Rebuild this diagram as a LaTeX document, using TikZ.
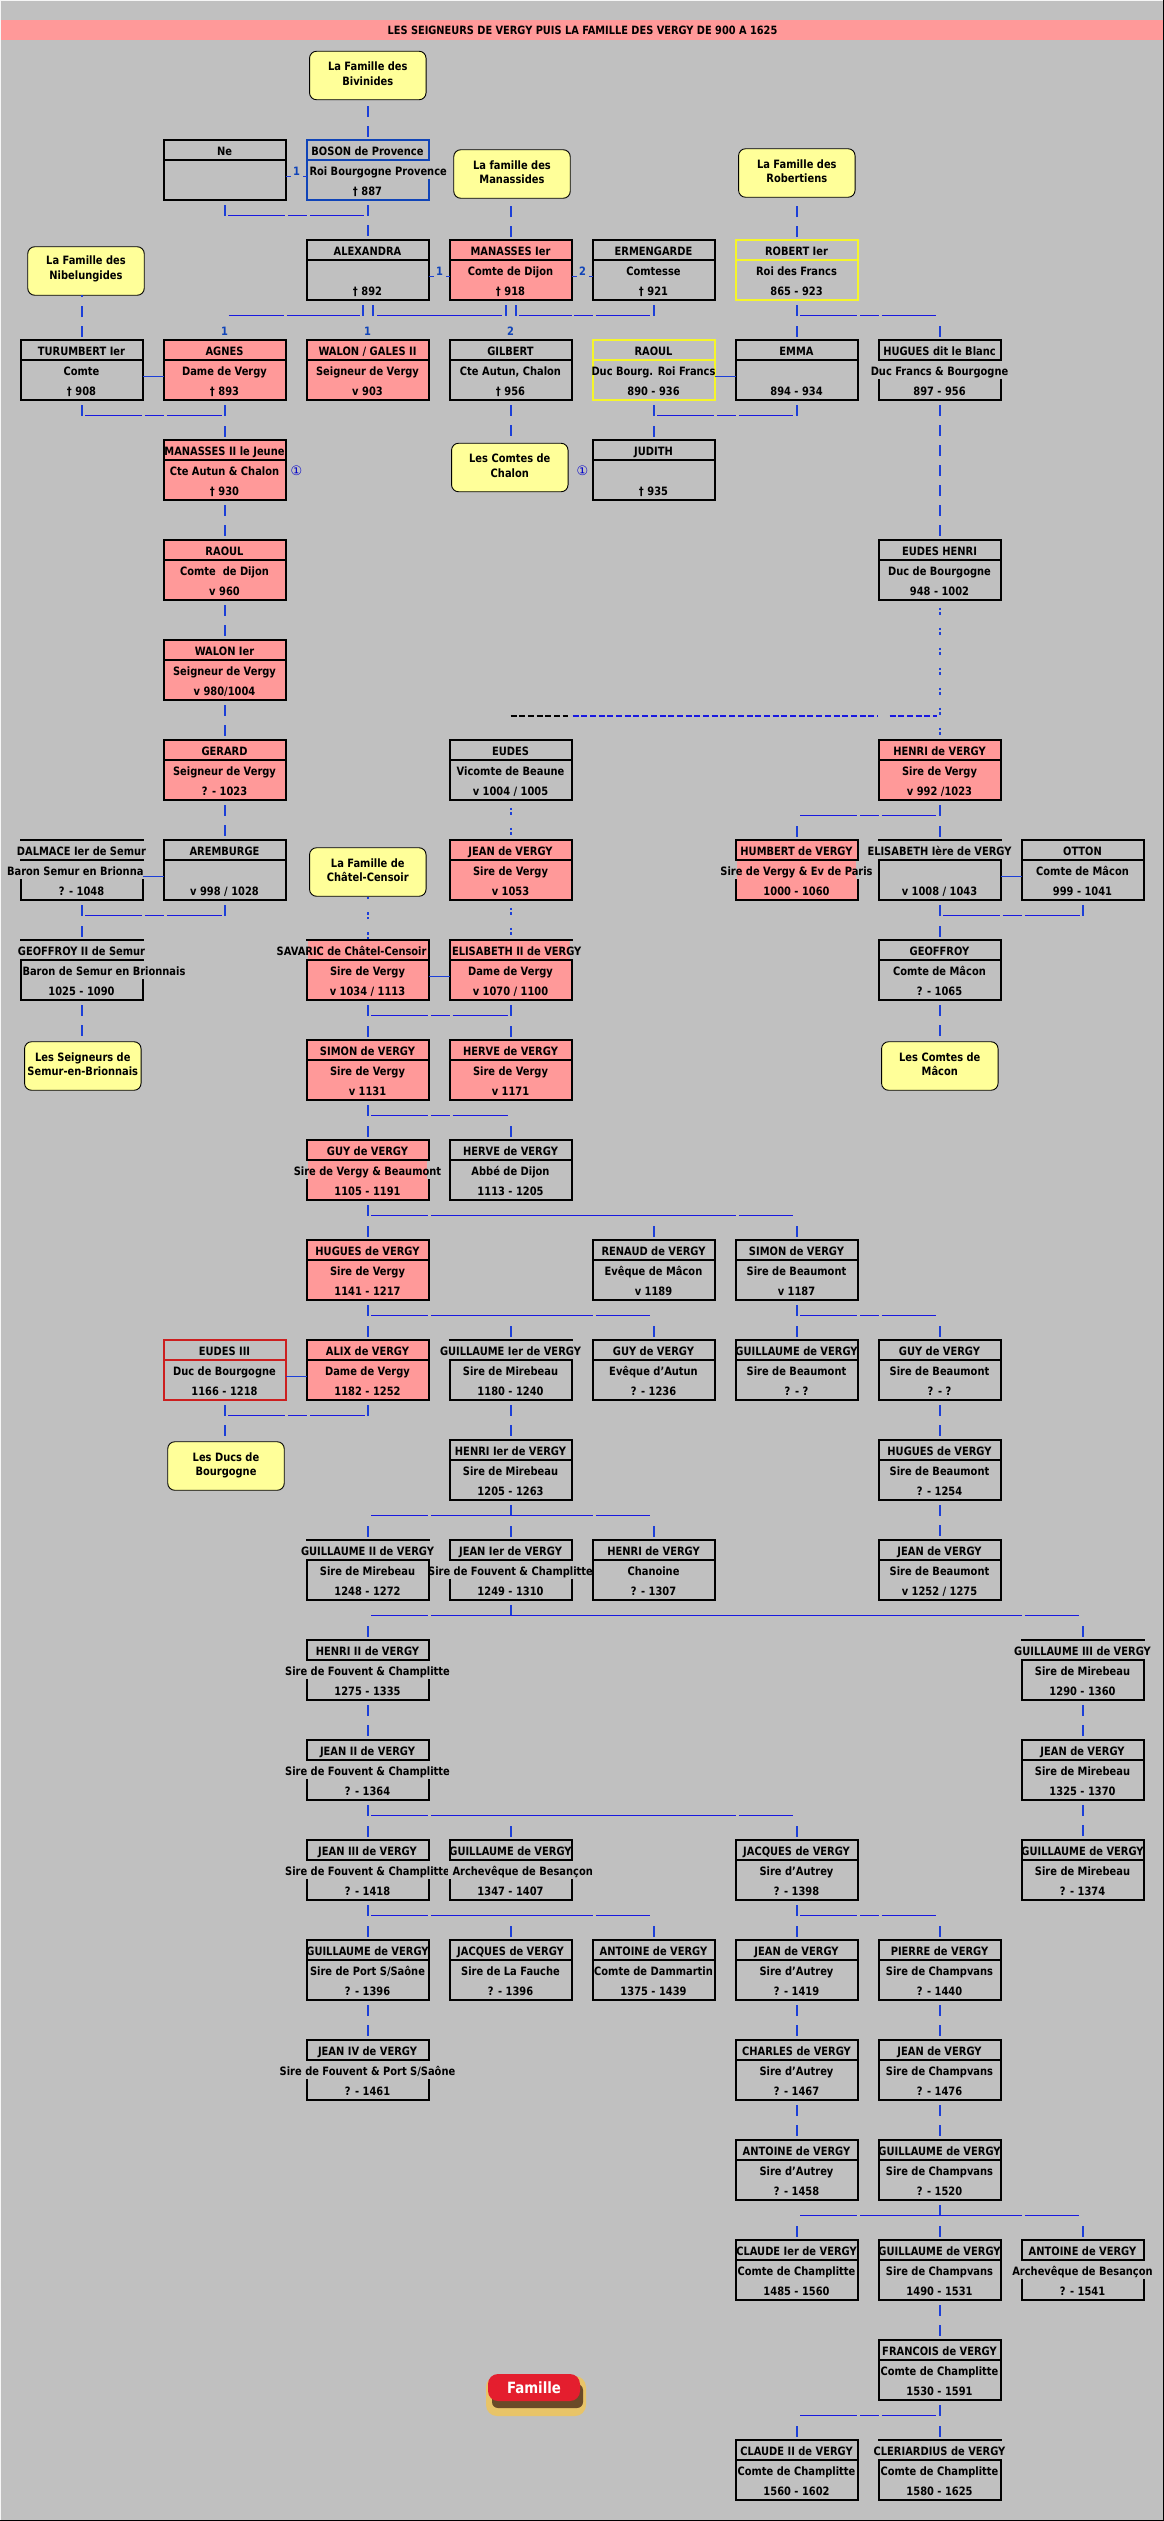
\documentclass[tikz,border=0pt]{standalone}
\usepackage{fontspec}
\setmainfont{DejaVu Sans}[FakeStretch=0.86]
\newfontfamily\circfont{DejaVu Sans}
\usetikzlibrary{calc}
\definecolor{bgc}{HTML}{C0C0C0}
\definecolor{pinkc}{HTML}{FF9999}
\definecolor{yelc}{HTML}{FFFF99}
\definecolor{linkc}{HTML}{1C3FD8}
\definecolor{hlinkc}{HTML}{1818E0}
\definecolor{boscol}{HTML}{1044B8}
\definecolor{redc}{HTML}{CC1F1F}
\definecolor{ybord}{HTML}{F5F52A}
\definecolor{halo}{HTML}{E8C468}
\definecolor{shad}{HTML}{6A4A28}
\definecolor{btn}{HTML}{E41E2E}
\tikzset{
  x=1pt,y=-1pt,
  boxbase/.style={draw=black,line width=2pt,fill=bgc,minimum width=122pt,minimum height=59.5pt,inner sep=0pt,outer sep=0pt},
  pink/.style={fill=pinkc},
  bluebord/.style={draw=boscol},
  yelbord/.style={draw=ybord},
  redbord/.style={draw=redc},
  txt/.style={font=\fontsize{11.5}{13}\selectfont\bfseries,text=black,text height=11pt,text depth=2pt,inner sep=0pt,outer sep=0pt,anchor=center},
  yel/.style={draw=black,line width=0.9pt,fill=yelc,rounded corners=7pt,minimum width=116.5pt,minimum height=48.5pt,inner sep=0pt,outer sep=0pt},
  vt/.style={draw=linkc,line width=2pt,dash pattern=on 11pt off 9pt,dash phase=14.5pt},
  vtb/.style={draw=linkc,line width=2pt,dash pattern=on 11pt off 9pt,dash phase=17pt},
  dots/.style={draw=linkc,line width=2pt,dash pattern=on 2.5pt off 2pt on 2.5pt off 13pt,dash phase=12pt},
  hb/.style={draw=hlinkc,line width=1.3pt},
  mar/.style={draw=linkc,line width=1pt},
  num/.style={font=\fontsize{11.5}{13}\selectfont\bfseries,text=boscol,inner sep=0pt,outer sep=0pt},
  circ/.style={font=\fontsize{13}{13}\selectfont\circfont,text=blue!80!black,inner sep=0pt,outer sep=0pt},
}
% \person{id}{col}{row}{style}{name}{line 2}{line 3}
\newcommand{\person}[7]{%
  \node[boxbase,#4] (#1) at ({81.5+143*#2},{169.75+100*#3}) {};
  \draw[line width=2pt,draw=black,#4] (#1.north west) ++(0,20) -- ($(#1.north east)+(0,20)$);
  \node[txt] (#1-a) at ($(#1.north)+(0,11)$) {#5};
  \node[txt] (#1-b) at ($(#1.north)+(0,31)$) {#6};
  \node[txt] (#1-c) at ($(#1.north)+(0,51)$) {#7};
}
\newcommand{\yelbox}[6]{%
  \node[yel] (#1) at (#2,#3) {};
  \node[txt] (#1-a) at ($(#1.north)+(0,#6)$) {#4};
  \node[txt] (#1-b) at ($(#1.north)+(0,#6+14.5)$) {#5};
}
\newcommand{\tkvl}[2]{\draw[vt] (#1.south) -- (#1.south |- #2.north);}
\newcommand{\tkvb}[2]{\draw[vtb] (#2.north) -- (#2.north |- #1.south);}
\newcommand{\tkvd}[2]{\draw[dots] (#1.south) -- (#1.south |- #2.north);}
\newcommand{\tkup}[1]{\draw[vt] (#1.south) -- ++(0,18);}
\newcommand{\tkdn}[1]{\draw[draw=linkc,line width=2pt] ($(#1.north)+(0,-14)$) -- ($(#1.north)+(0,-3)$);}
% bar under node #1 from centre of #2 (+#3) to centre of #4 (+#5), with the cell gaps
\newcommand{\sibx}[5]{%
  \draw[hb] ($(#1.south -| #2.south)+(#3,16)$) -- ($(#1.south -| #2.east)+(-1,16)$);
  \draw[hb] ($(#1.south -| #2.east)+(2,16)$) -- ($(#1.south -| #4.west)+(0,16)$);
  \draw[hb] ($(#1.south -| #4.west)+(3,16)$) -- ($(#1.south -| #4.south)+(#5,16)$);
}
\newcommand{\mlink}[2]{\draw[mar] ($(#1.north east)+(0,36)$) -- ($(#2.north west)+(0,36)$);}
\newcommand{\ovf}[4]{% id, sides, row, text
  \foreach \s in {#2}{\draw[line width=3.4pt,bgc] ($(#1.north \s)+(0,{#3*20-19})$) -- +(0,18);}
  \node[txt] (#1-o#3) at ($(#1.north)+(0,{#3*20-9})$) {#4};
}
\begin{document}
\begin{tikzpicture}
\useasboundingbox (0,0) rectangle (1164,2521);
\fill[bgc] (0,0) rectangle (1164,2521);
\draw[black,line width=1pt] (1163.5,0) -- (1163.5,2520.5) -- (0,2520.5);
\draw[white!85!bgc,line width=1pt] (0.5,2520) -- (0.5,0.5) -- (1163,0.5);
\fill[pinkc] (1,20) rectangle (1163,40);
\node[inner sep=0pt,font=\fontsize{11.4}{13}\selectfont\bfseries,text=black] (titre) at (582.5,30) {LES SEIGNEURS DE VERGY PUIS LA FAMILLE DES VERGY DE 900 A 1625};

% families
\yelbox{bivinides}{367.8}{75.5}{La Famille des}{Bivinides}{15}
\yelbox{manassides}{512}{174}{La famille des}{Manassides}{15}
\yelbox{robertiens}{796.8}{173}{La Famille des}{Robertiens}{15}
\yelbox{nibelung}{86}{271}{La Famille des}{Nibelungides}{13.5}
\yelbox{chalon}{509.8}{467.5}{Les Comtes de}{Chalon}{15}
\yelbox{chatel}{367.8}{872}{La Famille de}{Châtel-Censoir}{15}
\yelbox{semurf}{82.8}{1066}{Les Seigneurs de}{Semur-en-Brionnais}{15}
\yelbox{macon}{939.8}{1066}{Les Comtes de}{Mâcon}{15}
\yelbox{ducs}{226}{1466}{Les Ducs de}{Bourgogne}{15}

% people
\person{ne}{1}{0}{}{Ne}{}{}
\person{boson}{2}{0}{bluebord}{BOSON de Provence}{}{† 887}
\person{alexandra}{2}{1}{}{ALEXANDRA}{}{† 892}
\person{manasses}{3}{1}{pink}{MANASSES Ier}{Comte de Dijon}{† 918}
\person{ermengarde}{4}{1}{}{ERMENGARDE}{Comtesse}{† 921}
\person{robert}{5}{1}{yelbord}{ROBERT Ier}{Roi des Francs}{865 - 923}
\person{turumbert}{0}{2}{}{TURUMBERT Ier}{Comte}{† 908}
\person{agnes}{1}{2}{pink}{AGNES}{Dame de Vergy}{† 893}
\person{walon}{2}{2}{pink}{WALON / GALES II}{Seigneur de Vergy}{v 903}
\person{gilbert}{3}{2}{}{GILBERT}{Cte Autun, Chalon}{† 956}
\person{raoulb}{4}{2}{yelbord}{RAOUL}{Duc Bourg. Roi Francs}{890 - 936}
\person{emma}{5}{2}{}{EMMA}{}{894 - 934}
\person{hugues}{6}{2}{}{HUGUES dit le Blanc}{}{897 - 956}
\person{manassesb}{1}{3}{pink}{MANASSES II le Jeune}{Cte Autun \& Chalon}{† 930}
\person{judith}{4}{3}{}{JUDITH}{}{† 935}
\person{raoul}{1}{4}{pink}{RAOUL}{Comte\ \ de Dijon}{v 960}
\person{eudesh}{6}{4}{}{EUDES HENRI}{Duc de Bourgogne}{948 - 1002}
\person{walonb}{1}{5}{pink}{WALON Ier}{Seigneur de Vergy}{v 980/1004}
\person{gerard}{1}{6}{pink}{GERARD}{Seigneur de Vergy}{? - 1023}
\person{eudes}{3}{6}{}{EUDES}{Vicomte de Beaune}{v 1004 / 1005}
\person{henri}{6}{6}{pink}{HENRI de VERGY}{Sire de Vergy}{v 992 /1023}
\person{dalmace}{0}{7}{}{}{}{? - 1048}
\person{aremburge}{1}{7}{}{AREMBURGE}{}{v 998 / 1028}
\person{jean}{3}{7}{pink}{JEAN de VERGY}{Sire de Vergy}{v 1053}
\person{humbert}{5}{7}{pink}{HUMBERT de VERGY}{}{1000 - 1060}
\person{elisa}{6}{7}{}{}{}{v 1008 / 1043}
\person{otton}{7}{7}{}{OTTON}{Comte de Mâcon}{999 - 1041}
\person{geoffb}{0}{8}{}{}{}{1025 - 1090}
\person{savaric}{2}{8}{pink}{}{Sire de Vergy}{v 1034 / 1113}
\person{elisb}{3}{8}{pink}{}{Dame de Vergy}{v 1070 / 1100}
\person{geoffroy}{6}{8}{}{GEOFFROY}{Comte de Mâcon}{? - 1065}
\person{simon}{2}{9}{pink}{SIMON de VERGY}{Sire de Vergy}{v 1131}
\person{herve}{3}{9}{pink}{HERVE de VERGY}{Sire de Vergy}{v 1171}
\person{guy}{2}{10}{pink}{GUY de VERGY}{}{1105 - 1191}
\person{herveb}{3}{10}{}{HERVE de VERGY}{Abbé de Dijon}{1113 - 1205}
\person{huguesv}{2}{11}{pink}{HUGUES de VERGY}{Sire de Vergy}{1141 - 1217}
\person{renaud}{4}{11}{}{RENAUD de VERGY}{Evêque de Mâcon}{v 1189}
\person{simonb}{5}{11}{}{SIMON de VERGY}{Sire de Beaumont}{v 1187}
\person{eudesc}{1}{12}{redbord}{EUDES III}{Duc de Bourgogne}{1166 - 1218}
\person{alix}{2}{12}{pink}{ALIX de VERGY}{Dame de Vergy}{1182 - 1252}
\person{guila}{3}{12}{}{}{Sire de Mirebeau}{1180 - 1240}
\person{guyb}{4}{12}{}{GUY de VERGY}{Evêque d'Autun}{? - 1236}
\person{guilb}{5}{12}{}{GUILLAUME de VERGY}{Sire de Beaumont}{? - ?}
\person{guyc}{6}{12}{}{GUY de VERGY}{Sire de Beaumont}{? - ?}
\person{henria}{3}{13}{}{HENRI Ier de VERGY}{Sire de Mirebeau}{1205 - 1263}
\person{huguesb}{6}{13}{}{HUGUES de VERGY}{Sire de Beaumont}{? - 1254}
\person{guilc}{2}{14}{}{}{Sire de Mirebeau}{1248 - 1272}
\person{jeana}{3}{14}{}{JEAN Ier de VERGY}{}{1249 - 1310}
\person{henrib}{4}{14}{}{HENRI de VERGY}{Chanoine}{? - 1307}
\person{jeanb}{6}{14}{}{JEAN de VERGY}{Sire de Beaumont}{v 1252 / 1275}
\person{henric}{2}{15}{}{HENRI II de VERGY}{}{1275 - 1335}
\person{guild}{7}{15}{}{}{Sire de Mirebeau}{1290 - 1360}
\person{jeanc}{2}{16}{}{JEAN II de VERGY}{}{? - 1364}
\person{jeand}{7}{16}{}{JEAN de VERGY}{Sire de Mirebeau}{1325 - 1370}
\person{jeane}{2}{17}{}{JEAN III de VERGY}{}{? - 1418}
\person{guile}{3}{17}{}{GUILLAUME de VERGY}{}{1347 - 1407}
\person{jacques}{5}{17}{}{JACQUES de VERGY}{Sire d'Autrey}{? - 1398}
\person{guilf}{7}{17}{}{GUILLAUME de VERGY}{Sire de Mirebeau}{? - 1374}
\person{guilg}{2}{18}{}{GUILLAUME de VERGY}{Sire de Port S/Saône}{? - 1396}
\person{jacquesb}{3}{18}{}{JACQUES de VERGY}{Sire de La Fauche}{? - 1396}
\person{antoine}{4}{18}{}{ANTOINE de VERGY}{Comte de Dammartin}{1375 - 1439}
\person{jeanf}{5}{18}{}{JEAN de VERGY}{Sire d'Autrey}{? - 1419}
\person{pierre}{6}{18}{}{PIERRE de VERGY}{Sire de Champvans}{? - 1440}
\person{jeang}{2}{19}{}{JEAN IV de VERGY}{}{? - 1461}
\person{charles}{5}{19}{}{CHARLES de VERGY}{Sire d'Autrey}{? - 1467}
\person{jeanh}{6}{19}{}{JEAN de VERGY}{Sire de Champvans}{? - 1476}
\person{antoineb}{5}{20}{}{ANTOINE de VERGY}{Sire d'Autrey}{? - 1458}
\person{guilh}{6}{20}{}{GUILLAUME de VERGY}{Sire de Champvans}{? - 1520}
\person{claude}{5}{21}{}{CLAUDE Ier de VERGY}{Comte de Champlitte}{1485 - 1560}
\person{guili}{6}{21}{}{GUILLAUME de VERGY}{Sire de Champvans}{1490 - 1531}
\person{antoinec}{7}{21}{}{ANTOINE de VERGY}{}{? - 1541}
\person{francois}{6}{22}{}{FRANCOIS de VERGY}{Comte de Champlitte}{1530 - 1591}
\person{claudeb}{5}{23}{}{CLAUDE II de VERGY}{Comte de Champlitte}{1560 - 1602}
\person{cleri}{6}{23}{}{}{Comte de Champlitte}{1580 - 1625}

% border breaks and overflowing text
\ovf{boson}{east}{2}{}
\node[txt,anchor=west] (boson-ov) at ($(boson.north west)+(3,31)$) {Roi Bourgogne Provence};
\ovf{hugues}{west,east}{2}{Duc Francs \& Bourgogne}
\ovf{dalmace}{west,east}{1}{DALMACE Ier de Semur}
\ovf{dalmace}{west,east}{2}{}
\node[txt,anchor=east] (dalmace-ov) at ($(dalmace.north east)+(1,31)$) {Baron Semur en Brionna};
\ovf{humbert}{west,east}{2}{Sire de Vergy \& Ev de Paris}
\ovf{elisa}{west,east}{1}{ELISABETH Ière de VERGY}
\ovf{geoffb}{west,east}{1}{GEOFFROY II de Semur}
\ovf{geoffb}{east}{2}{}
\node[txt,anchor=west] (geoffb-ov) at ($(geoffb.north west)+(2,31)$) {Baron de Semur en Brionnais};
\ovf{savaric}{west}{1}{}
\node[txt,anchor=east] (savaric-ov) at ($(savaric.north east)+(-2,11)$) {SAVARIC de Châtel-Censoir};
\ovf{elisb}{east}{1}{}
\node[txt,anchor=west] (elisb-ov) at ($(elisb.north west)+(2.5,11)$) {ELISABETH II de VERGY};
\ovf{guy}{west,east}{2}{Sire de Vergy \& Beaumont}
\ovf{guila}{west,east}{1}{GUILLAUME Ier de VERGY}
\ovf{guilc}{west,east}{1}{GUILLAUME II de VERGY}
\ovf{jeana}{west,east}{2}{Sire de Fouvent \& Champlitte}
\ovf{henric}{west,east}{2}{Sire de Fouvent \& Champlitte}
\ovf{guild}{west,east}{1}{GUILLAUME III de VERGY}
\ovf{jeanc}{west,east}{2}{Sire de Fouvent \& Champlitte}
\ovf{jeane}{west,east}{2}{Sire de Fouvent \& Champlitte}
\ovf{guile}{west,east}{2}{}
\node[txt,anchor=west] (guile-ov) at ($(guile.north west)+(3,31)$) {Archevêque de Besançon};
\ovf{jeang}{west,east}{2}{Sire de Fouvent \& Port S/Saône}
\ovf{antoinec}{west,east}{2}{Archevêque de Besançon}
\ovf{cleri}{west,east}{1}{CLERIARDIUS de VERGY}

% marriages
\draw[mar] ($(ne.north east)+(0,36)$) -- +(5,0);
\draw[mar] ($(boson.north west)+(0,36)$) -- +(-3.5,0);
\node[num] (n1) at (296.5,171) {1};
\draw[mar] ($(alexandra.north east)+(0,36)$) -- +(5,0);
\draw[mar] ($(manasses.north west)+(0,36)$) -- +(-3.5,0);
\node[num] (n2) at (439.5,271) {1};
\draw[mar] ($(manasses.north east)+(0,36)$) -- +(5,0);
\draw[mar] ($(ermengarde.north west)+(0,36)$) -- +(-3.5,0);
\node[num] (n3) at (582.5,271) {2};
\mlink{turumbert}{agnes}
\mlink{raoulb}{emma}
\mlink{dalmace}{aremburge}
\mlink{savaric}{elisb}
\mlink{elisa}{otton}
\mlink{eudesc}{alix}

% children numbers and renvois
\node[num] (n4) at (224.5,331) {1};
\node[num] (n5) at (367.5,331) {1};
\node[num] (n6) at (510.5,331) {2};
\node[circ] (c1) at (296.5,471) {①};
\node[circ] (c2) at (582.5,471) {①};

% descents from the family boxes
\tkvb{bivinides}{boson}
\tkvb{manassides}{manasses}
\tkvb{robertiens}{robert}
\tkvb{nibelung}{turumbert}

% straight descents
\tkvl{boson}{alexandra}
\tkvl{gilbert}{chalon}
\tkvl{hugues}{eudesh}
\tkvl{manassesb}{raoul}
\tkvl{raoul}{walonb}
\tkvl{walonb}{gerard}
\tkvl{gerard}{aremburge}
\tkvl{geoffb}{semurf}
\tkvl{geoffroy}{macon}
\tkvl{guila}{henria}
\tkvl{guyc}{huguesb}
\tkvl{huguesb}{jeanb}
\tkvl{henric}{jeanc}
\tkvl{guild}{jeand}
\tkvl{jeand}{guilf}
\tkvl{guilg}{jeang}
\tkvl{jeanf}{charles}
\tkvl{pierre}{jeanh}
\tkvl{jeanh}{guilh}
\tkvl{charles}{antoineb}
\tkvl{guili}{francois}
\tkvl{eudesc}{ducs}

% dotted descents
\tkvd{eudesh}{henri}
\tkvd{eudes}{jean}
\tkvd{jean}{elisb}
\draw[dots,dash phase=19pt] (savaric.north) -- (savaric.north |- chatel.south);

\draw[draw=black,line width=1.2pt,dash pattern=on 6pt off 2.7pt] ($(eudes.north)+(0,-24)$) -- +(57,0);
\draw[draw=hlinkc,line width=1.2pt,dash pattern=on 6pt off 2.7pt] ($(eudes.north)+(62,-24)$) -- ($(henri.north)+(-62,-24)$);
\draw[draw=hlinkc,line width=1.2pt,dash pattern=on 6pt off 2.7pt] ($(henri.north)+(-50,-24)$) -- ($(henri.north)+(-3,-24)$);

% couples and sibling bars
\tkup{ne}\sibx{boson}{ne}{3.5}{boson}{-3.5}
\draw[vt] ($(alexandra.south)+(-5,0)$) -- +(0,18);
\draw[vt] ($(alexandra.south)+(5,0)$) -- +(0,18);
\draw[vt] ($(manasses.south)+(-5,0)$) -- +(0,18);
\draw[vt] ($(manasses.south)+(5,0)$) -- +(0,18);
\tkup{ermengarde}
\draw[hb] ($(alexandra.south)+(-139,16)$) -- ($(alexandra.south)+(-83.5,16)$);
\draw[hb] ($(alexandra.south)+(-81,16)$) -- ($(alexandra.south)+(-7.5,16)$);
\draw[hb] ($(alexandra.south)+(9.5,16)$) -- ($(manasses.south)+(-8.5,16)$);
\draw[hb] ($(manasses.south)+(8.5,16)$) -- ($(manasses.east |- manasses.south)+(0,16)$);
\draw[hb] ($(manasses.east |- manasses.south)+(2,16)$) -- ($(ermengarde.south west)+(0,16)$);
\draw[hb] ($(ermengarde.south west)+(3,16)$) -- ($(ermengarde.south)+(-3.5,16)$);
\tkup{robert}\sibx{robert}{robert}{3.5}{hugues}{-3.5}\tkdn{emma}\tkdn{hugues}
\tkup{turumbert}\tkup{agnes}\sibx{agnes}{turumbert}{3.5}{agnes}{-3}\tkdn{manassesb}
\tkup{raoulb}\tkup{emma}\sibx{emma}{raoulb}{3.5}{emma}{-3.5}\tkdn{judith}
\tkup{henri}\sibx{henri}{humbert}{3.5}{henri}{-3.5}\tkdn{humbert}\tkdn{elisa}
\tkup{dalmace}\tkup{aremburge}\sibx{dalmace}{dalmace}{3.5}{aremburge}{-3}\tkdn{geoffb}
\tkup{elisa}\tkup{otton}\sibx{elisa}{elisa}{3.5}{otton}{-3}\tkdn{geoffroy}
\tkup{savaric}\tkup{elisb}\sibx{savaric}{savaric}{3.5}{elisb}{-3}\tkdn{simon}\tkdn{herve}
\tkup{simon}\sibx{simon}{simon}{3.5}{herve}{-3}\tkdn{guy}\tkdn{herveb}
\tkup{guy}\sibx{guy}{guy}{3.5}{simonb}{-3.5}\tkdn{huguesv}\tkdn{renaud}\tkdn{simonb}
\tkup{huguesv}\sibx{huguesv}{huguesv}{3.5}{guyb}{-3.5}\tkdn{alix}\tkdn{guila}\tkdn{guyb}
\tkup{simonb}\sibx{simonb}{simonb}{3.5}{guyc}{-3.5}\tkdn{guilb}\tkdn{guyc}
\tkup{alix}\sibx{alix}{eudesc}{3.5}{alix}{-3}
\tkup{henria}\sibx{henria}{guilc}{3.5}{henrib}{-3.5}\tkdn{guilc}\tkdn{jeana}\tkdn{henrib}
\tkup{jeana}\sibx{jeana}{guilc}{3.5}{guild}{-3.5}\tkdn{henric}\tkdn{guild}
\tkup{jeanc}\sibx{jeanc}{jeanc}{3.5}{jacques}{-3.5}\tkdn{jeane}\tkdn{guile}\tkdn{jacques}
\tkup{jeane}\sibx{jeane}{jeane}{3.5}{antoine}{-3.5}\tkdn{guilg}\tkdn{jacquesb}\tkdn{antoine}
\tkup{jacques}\sibx{jacques}{jacques}{3.5}{pierre}{-3.5}\tkdn{jeanf}\tkdn{pierre}
\tkup{guilh}\sibx{guilh}{claude}{3.5}{antoinec}{-3.5}\tkdn{claude}\tkdn{guili}\tkdn{antoinec}
\tkup{francois}\sibx{francois}{claude}{3.5}{francois}{-3.5}\tkdn{claudeb}\tkdn{cleri}

% button
\fill[color=halo,rounded corners=11pt] (486,2376) rectangle (586,2416);
\fill[color=shad,rounded corners=6pt] (492,2384) rectangle (583,2408);
\node[fill=btn,rounded corners=10pt,minimum width=92pt,minimum height=27pt,inner sep=0pt,text=white,font=\fontsize{15.5}{16}\selectfont\bfseries] (famille) at (534,2387.5) {Famille};
\end{tikzpicture}
\end{document}
